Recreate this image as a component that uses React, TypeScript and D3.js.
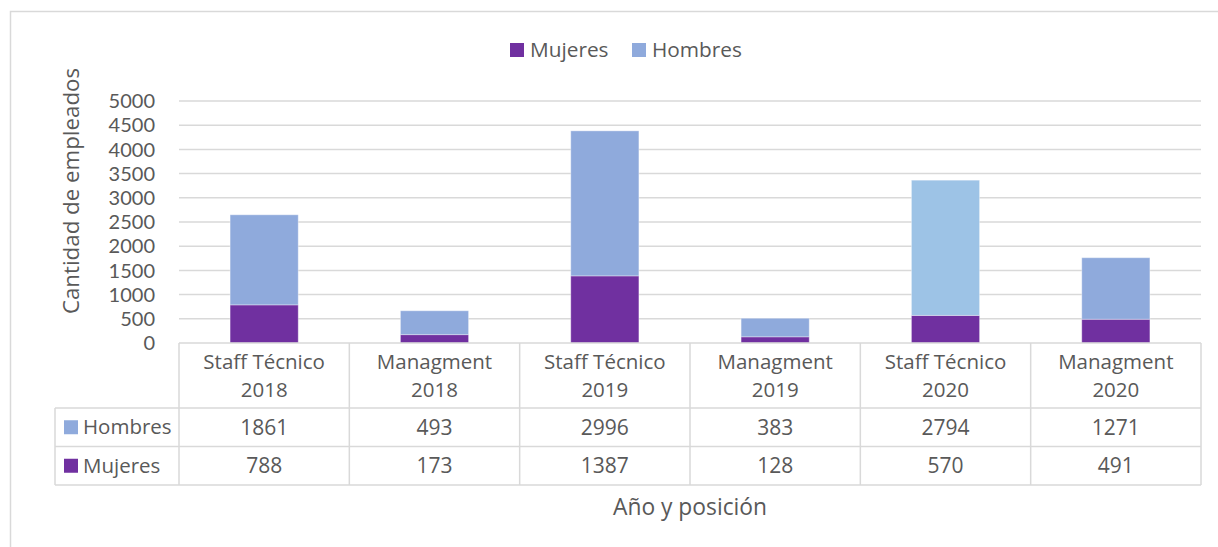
import React from "react";
import * as d3 from "d3";

// datos
const categories = [
  "Staff Técnico 2018",
  "Managment 2018",
  "Staff Técnico 2019",
  "Managment 2019",
  "Staff Técnico 2020",
  "Managment 2020",
];
const mujeres = [788, 173, 1387, 128, 570, 491];
const hombres = [1861, 493, 2996, 383, 2794, 1271];
const seriesNames = ["Mujeres", "Hombres"];

const W = 1218;
const H = 547;
const font = "'Open Sans', 'Segoe UI', sans-serif";
const textColor = "#595959";
const gridColor = "#D9D9D9";
const colors: Record<string, string> = { Mujeres: "#7030A0", Hombres: "#8FAADC" };
// el punto "Staff Técnico 2020" tiene un azul mas claro en el original
const pointOverride: Record<string, string> = { "Hombres|Staff Técnico 2020": "#9DC3E6" };

const plot = { left: 179, right: 1201, top: 101, bottom: 343 };
const rows = { cat: 408, h: 446.5, m: 485, left: 55 };

export default function App() {
  const data = categories.map((c, i) => ({ cat: c, Mujeres: mujeres[i], Hombres: hombres[i] }));
  const stacked = d3.stack<any>().keys(seriesNames)(data);

  const x = d3.scaleBand().domain(categories).range([plot.left, plot.right]).padding(0);
  const y = d3.scaleLinear().domain([0, 5000]).range([plot.bottom, plot.top]);
  const barW = x.bandwidth() * 0.4;

  const splitLabel = (s: string) => {
    const k = s.lastIndexOf(" ");
    return [s.slice(0, k), s.slice(k + 1)];
  };

  const tableRows = [
    { name: "Hombres", values: hombres, y0: rows.cat, y1: rows.h },
    { name: "Mujeres", values: mujeres, y0: rows.h, y1: rows.m },
  ];

  return (
    <svg width={W} height={H} style={{ position: "absolute", left: 0, top: 0 }} fontFamily={font}>
      <rect x={0} y={0} width={W} height={H} fill="#fff" />
      {/* marco del grafico */}
      <path d={`M10.5,${H} V11.5 H${W}`} fill="none" stroke={gridColor} strokeWidth={1.5} />

      {/* leyenda */}
      <g fontSize={20.8} fill={textColor}>
        <rect x={510} y={43} width={14} height={14} fill={colors.Mujeres} />
        <text x={530} y={50} dy="0.35em">Mujeres</text>
        <rect x={632} y={43} width={14} height={14} fill={colors.Hombres} />
        <text x={652} y={50} dy="0.35em">Hombres</text>
      </g>

      {/* lineas de cuadricula y etiquetas del eje */}
      {y.ticks(10).map((t) => (
        <g key={t}>
          {t > 0 && (
            <line x1={plot.left} x2={plot.right} y1={y(t)} y2={y(t)} stroke={gridColor} strokeWidth={1.5} />
          )}
          <text
            x={155}
            y={y(t)}
            dy="0.36em"
            textAnchor="end"
            fontSize={20}
            fontFamily="Lato, 'Open Sans', sans-serif"
            fill={textColor}
          >
            {t}
          </text>
        </g>
      ))}

      {/* barras apiladas */}
      {stacked.map((s) => (
        <g key={s.key}>
          {s.map((d, i) => {
            const cat = categories[i];
            const fill = pointOverride[`${s.key}|${cat}`] || colors[s.key];
            return (
              <rect
                key={cat}
                x={x(cat)! + (x.bandwidth() - barW) / 2}
                y={y(d[1])}
                width={barW}
                height={y(d[0]) - y(d[1])}
                fill={fill}
                stroke="#fff"
                strokeOpacity={0.35}
                strokeWidth={1}
              />
            );
          })}
        </g>
      ))}

      {/* tabla de datos */}
      <g stroke={gridColor} strokeWidth={1.5}>
        <line x1={plot.left} x2={plot.right} y1={plot.bottom} y2={plot.bottom} />
        <line x1={rows.left} x2={plot.right} y1={rows.cat} y2={rows.cat} />
        <line x1={rows.left} x2={plot.right} y1={rows.h} y2={rows.h} />
        <line x1={rows.left} x2={plot.right} y1={rows.m} y2={rows.m} />
        <line x1={rows.left} x2={rows.left} y1={rows.cat} y2={rows.m} />
        {categories.map((c) => (
          <line key={c} x1={x(c)} x2={x(c)} y1={plot.bottom} y2={rows.m} />
        ))}
        <line x1={plot.right} x2={plot.right} y1={plot.bottom} y2={rows.m} />
      </g>

      <g fill={textColor} textAnchor="middle">
        {categories.map((c) => {
          const [a, b] = splitLabel(c);
          const cx = x(c)! + x.bandwidth() / 2;
          return (
            <g key={c} fontSize={20.5}>
              <text x={cx} y={361.5} dy="0.35em">{a}</text>
              <text x={cx} y={389.5} dy="0.35em">{b}</text>
            </g>
          );
        })}
        {tableRows.map((r) =>
          r.values.map((v, i) => (
            <text
              key={r.name + i}
              x={x(categories[i])! + x.bandwidth() / 2}
              y={(r.y0 + r.y1) / 2}
              dy="0.35em"
              fontSize={21}
            >
              {v}
            </text>
          ))
        )}
      </g>
      {tableRows.map((r) => (
        <g key={r.name}>
          <rect x={64} y={(r.y0 + r.y1) / 2 - 7} width={14} height={14} fill={colors[r.name]} />
          <text x={83} y={(r.y0 + r.y1) / 2} dy="0.35em" fontSize={20.5} fill={textColor}>
            {r.name}
          </text>
        </g>
      ))}

      {/* titulos de ejes */}
      <text x={(plot.left + plot.right) / 2} y={507} dy="0.35em" textAnchor="middle" fontSize={22.8} fill={textColor}>
        Año y posición
      </text>
      <text
        transform={`translate(71,191) rotate(-90)`}
        dy="0.35em"
        textAnchor="middle"
        fontSize={22.3}
        fill={textColor}
      >
        Cantidad de empleados
      </text>
    </svg>
  );
}
